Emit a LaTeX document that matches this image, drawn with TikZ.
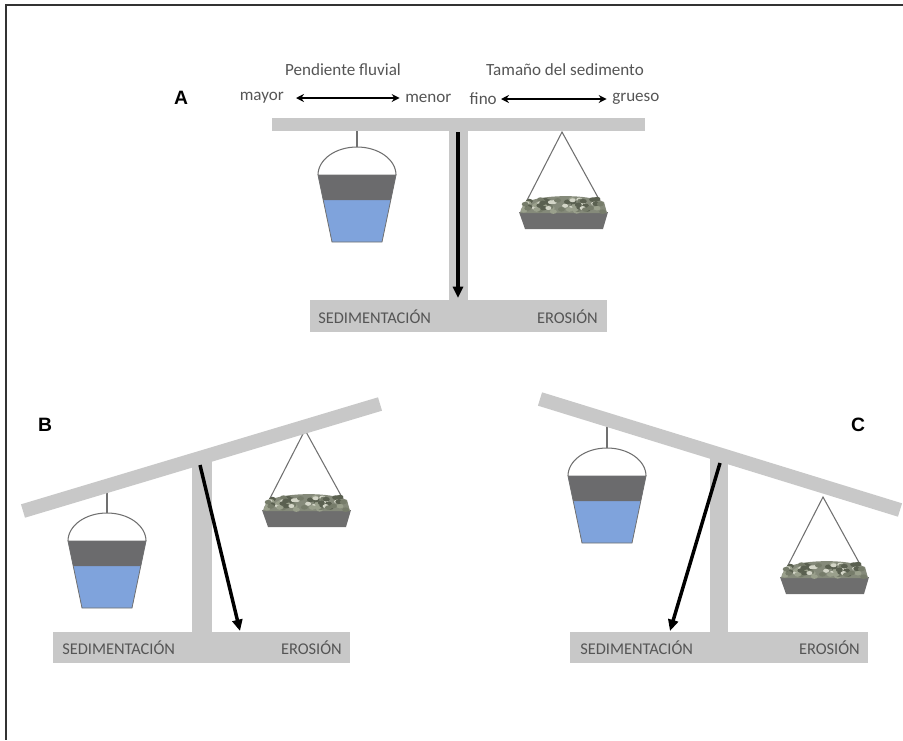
\documentclass[tikz,border=0pt]{standalone}
\usepackage{fontspec}
\setmainfont{Carlito}
\newfontfamily\letterfont{Liberation Sans}
\usetikzlibrary{arrows.meta}

\definecolor{beamgray}{HTML}{C8C8C8}
\definecolor{bandgray}{HTML}{6B6B6D}
\definecolor{water}{HTML}{7FA3DC}
\definecolor{wire}{HTML}{707070}
\definecolor{txtgray}{HTML}{555555}
\definecolor{traygray}{HTML}{6E6E6E}
\definecolor{heapgray}{HTML}{858A7A}
\definecolor{rockA}{HTML}{5A6050}
\definecolor{rockB}{HTML}{9AA08C}
\definecolor{rockC}{HTML}{D4D6C8}
\definecolor{rockD}{HTML}{767C6A}
\definecolor{framegray}{HTML}{333333}

\tikzset{
  x=0.75pt, y=-0.75pt,
  bar/.style={fill=beamgray, draw=none},
  tiltbar/.style={draw=beamgray, line width=10.5pt},
  lever/.style={line width=2.6pt, -{Triangle[length=8.5pt,width=7.5pt]}},
  toptext/.style={font=\fontsize{12.8}{14}\selectfont, text=txtgray, inner sep=0pt},
  basetext/.style={font=\fontsize{12.3}{13}\selectfont, text=txtgray, inner sep=0pt},
  panel/.style={font=\letterfont\bfseries\fontsize{14.5}{16}\selectfont, inner sep=0pt},
  twoway/.style={line width=1.2pt, {Stealth[length=6pt,width=6pt]}-{Stealth[length=6pt,width=6pt]}},
  % bucket of water hanging from its handle apex
  bucket/.pic={
    \draw[wire, line width=0.8pt] (0,0) -- (0,-25);
    \draw[wire, line width=0.8pt] (-39,28) arc[start angle=180, end angle=360, x radius=39, y radius=28];
    \fill[water] (-39,28) -- (39,28) -- (25,95) -- (-25,95) -- cycle;
    \fill[bandgray] (-39,28) -- (39,28) -- (33.8,53) -- (-33.8,53) -- cycle;
    \draw[wire, line width=0.6pt] (-39,28) -- (39,28) -- (25,95) -- (-25,95) -- cycle;
  },
  % pan of gravel hanging from its apex
  pan/.pic={
    \draw[wire, line width=0.8pt] (-41,80) -- (0,0) -- (44,80);
    \fill[traygray] (-43,80) -- (46,80) -- (41,97) -- (-37,97) -- cycle;
    \fill[heapgray] (-42,81) -- (-38,71) .. controls (-20,62) and (25,62) .. (42,70) -- (45,81) -- cycle;
    \pgfmathsetseed{11}
    \foreach \i in {1,...,70}{
      \pgfmathsetmacro{\rx}{-38+80*rnd}
      \pgfmathsetmacro{\ry}{67+13*rnd}
      \pgfmathtruncatemacro{\rc}{int(4*rnd)}
      \ifcase\rc
        \fill[rockA] (\rx,\ry) ellipse[x radius=3.5, y radius=2.3];
      \or
        \fill[rockB] (\rx,\ry) ellipse[x radius=3.5, y radius=2.3];
      \or
        \fill[rockC] (\rx,\ry) ellipse[x radius=3, y radius=2];
      \else
        \fill[rockD] (\rx,\ry) ellipse[x radius=3.5, y radius=2.3];
      \fi
    }
  }
}

\begin{document}
\begin{tikzpicture}
\useasboundingbox (0,0) rectangle (903,740);

% frame
\draw[framegray, line width=1.5pt] (903,5) -- (6,5) -- (6,740);

% ---------------- panel A ----------------
\node[panel] (lblA) at (181,98) {A};
\node[toptext] (pend) at (343,70) {Pendiente fluvial};
\node[toptext] (tam) at (565,70) {Tamaño del sedimento};
\node[toptext, anchor=east] (mayor) at (284,98) {mayor};
\node[toptext, anchor=west] (menor) at (405,98) {menor};
\node[toptext, anchor=east] (fino) at (497,99) {fino};
\node[toptext, anchor=west] (grueso) at (612,99) {grueso};
\draw[twoway] ([xshift=9pt]mayor.east) -- ([xshift=-4pt]menor.west);
\draw[twoway] ([xshift=3pt]fino.east) -- ([xshift=-4pt]grueso.west);

\fill[bar] (449,125) rectangle (468,300);
\fill[bar] (310,300) rectangle (607,332);
\pic at (357,147) {bucket};
\pic at (562,132) {pan};
\fill[bar] (272,118) rectangle (645,131);
\coordinate (pivA) at (458,132);
\coordinate (tipA) at (458,298);
\draw[lever] (pivA) -- (tipA);
\node[basetext, anchor=west] (sedA) at (318,317) {SEDIMENTACIÓN};
\node[basetext, anchor=east] (eroA) at (598,317) {EROSIÓN};

% ---------------- panel B ----------------
\node[panel] (lblB) at (45,425) {B};
\fill[bar] (192,455) rectangle (212,632);
\fill[bar] (53,632) rectangle (350,663);
\pic at (107,513) {bucket};
\pic at (305,430) {pan};
\coordinate (bLB) at (23,511);
\coordinate (bRB) at (380,404);
\draw[tiltbar] (bLB) -- (bRB);
\coordinate (pivB) at (200,465);
\coordinate (tipB) at (240,631);
\draw[lever] (pivB) -- (tipB);
\node[basetext, anchor=west] (sedB) at (62,648) {SEDIMENTACIÓN};
\node[basetext, anchor=east] (eroB) at (342,648) {EROSIÓN};

% ---------------- panel C ----------------
\node[panel] (lblC) at (858,425) {C};
\fill[bar] (710,452) rectangle (728,632);
\fill[bar] (570,632) rectangle (868,663);
\pic at (607,448) {bucket};
\pic at (823,497) {pan};
\coordinate (bLC) at (540,399);
\coordinate (bRC) at (900,510);
\draw[tiltbar] (bLC) -- (bRC);
\coordinate (pivC) at (720,463);
\coordinate (tipC) at (670,631);
\draw[lever] (pivC) -- (tipC);
\node[basetext, anchor=west] (sedC) at (580,648) {SEDIMENTACIÓN};
\node[basetext, anchor=east] (eroC) at (860,648) {EROSIÓN};
\end{tikzpicture}
\end{document}
